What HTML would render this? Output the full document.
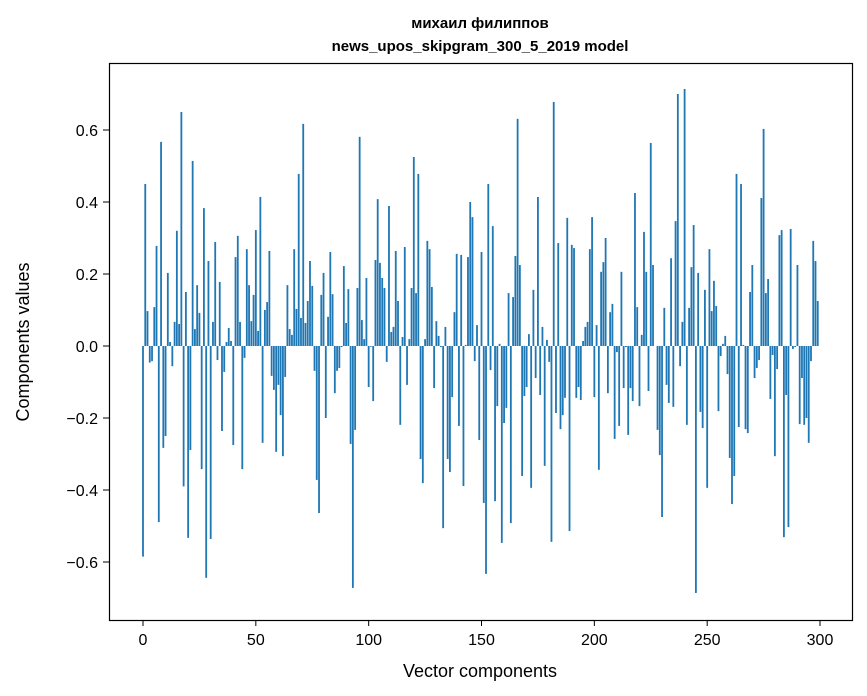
<!DOCTYPE html>
<html><head><meta charset="utf-8"><style>
html,body{margin:0;padding:0;background:#fff}
svg{display:block;font-family:"Liberation Sans","DejaVu Sans",sans-serif}
</style></head><body>
<svg id="chart" width="867" height="696">
<text x="480" y="28" text-anchor="middle" font-size="15" font-weight="bold">михаил филиппов</text>
<text x="480" y="51" text-anchor="middle" font-size="15" font-weight="bold">news_upos_skipgram_300_5_2019 model</text>
<g id="bars"></g>
<g id="xticks"></g>
<g id="yticks"></g>
<rect x="109.5" y="63.5" width="743" height="557" fill="none" stroke="#000" stroke-width="1.2"/>
<text x="480" y="677" text-anchor="middle" font-size="18">Vector components</text>
<text transform="translate(29,342) rotate(-90)" text-anchor="middle" font-size="18">Components values</text>
</svg>
<script>
const values = [
-0.585,0.45,0.097,-0.046,-0.042,0.108,0.278,-0.489,0.567,-0.283,
-0.25,0.203,0.011,-0.056,0.067,0.32,0.061,0.65,-0.39,0.15,
-0.533,-0.289,0.514,0.047,0.169,0.092,-0.342,0.383,-0.644,0.236,
-0.536,0.067,0.289,-0.039,0.178,-0.236,-0.072,0.011,0.05,0.014,
-0.275,0.247,0.306,0.067,-0.342,-0.033,0.269,0.169,0.069,0.142,
0.322,0.042,0.414,-0.269,0.1,0.122,0.264,-0.083,-0.122,-0.294,
-0.108,-0.192,-0.306,-0.086,0.169,0.047,0.031,0.269,0.103,0.478,
0.078,0.617,0.064,0.125,0.236,0.167,-0.069,-0.372,-0.464,0.142,
0.203,-0.2,0.081,0.261,0.144,-0.131,-0.069,-0.061,-0.003,0.222,
0.064,0.158,-0.272,-0.672,-0.233,0.161,0.581,0.072,0.019,0.189,
-0.114,-0.002,-0.153,0.239,0.408,0.231,0.189,0.161,-0.044,0.389,
0.039,0.053,0.264,0.125,-0.219,0.025,0.275,-0.108,0.019,0.161,
0.525,0.147,0.478,-0.314,-0.381,0.019,0.292,0.269,0.164,-0.117,
0.069,0.028,-0.003,-0.506,0.053,-0.314,-0.35,-0.142,0.094,0.256,
-0.222,0.253,-0.389,0.003,0.247,0.4,0.358,-0.042,0.058,-0.261,
0.261,-0.436,-0.633,0.45,-0.067,0.333,-0.431,-0.167,0.006,-0.547,
-0.214,-0.172,0.147,-0.492,0.136,0.25,0.631,0.225,-0.361,-0.139,
-0.114,0.033,-0.394,0.156,-0.089,0.414,-0.136,0.053,-0.333,0.017,
-0.044,-0.544,0.678,-0.186,0.286,-0.231,-0.192,-0.144,0.356,-0.514,
0.281,0.272,-0.144,-0.114,-0.15,0.014,0.053,0.067,0.269,0.358,
-0.142,0.058,-0.344,0.206,0.233,0.3,-0.131,0.094,0.117,-0.258,
-0.017,-0.222,0.206,-0.117,-0.003,-0.247,-0.117,-0.153,0.425,0.108,
-0.167,0.031,0.317,0.206,-0.125,0.564,0.225,0.0,-0.233,-0.303,
-0.475,0.106,-0.108,-0.158,0.244,-0.169,0.347,0.7,-0.056,0.067,
0.714,-0.219,0.106,0.219,0.336,-0.686,0.203,-0.183,-0.228,0.156,
-0.394,0.269,0.097,0.181,0.111,-0.181,-0.028,0.006,0.028,-0.078,
-0.311,-0.439,-0.361,0.478,-0.225,0.45,0.003,-0.231,-0.242,0.15,
0.225,-0.089,-0.061,-0.039,0.411,0.603,0.147,0.186,-0.147,-0.025,
-0.306,-0.064,0.308,0.322,-0.531,-0.136,-0.503,0.325,-0.008,-0.003,
0.225,-0.217,-0.089,-0.219,-0.2,-0.269,-0.042,0.292,0.236,0.125
];
const xTickValues = [0,50,100,150,200,250,300];
const xTickLabels = ["0","50","100","150","200","250","300"];
const yTickValues = [-0.6,-0.4,-0.2,0.0,0.2,0.4,0.6];
const yTickLabels = ["\u22120.6","\u22120.4","\u22120.2","0.0","0.2","0.4","0.6"];

const NS = "http://www.w3.org/2000/svg";
function xs(v){ return 143 + v * 2.2567; }
function ys(v){ return 346 - v * 360; }
const barsG = document.getElementById('bars');
values.forEach(function(v,i){
  const r = document.createElementNS(NS,'rect');
  const x0 = xs(i - 0.4), x1 = xs(i + 0.4);
  const y0 = Math.min(ys(v), ys(0)), y1 = Math.max(ys(v), ys(0));
  r.setAttribute('x', x0);
  r.setAttribute('y', y0);
  r.setAttribute('width', x1 - x0);
  r.setAttribute('height', Math.max(y1 - y0, 0));
  r.setAttribute('fill', '#1f77b4');
  
  
  barsG.appendChild(r);
});
const xg = document.getElementById('xticks');
xTickValues.forEach(function(v,i){
  const x = xs(v);
  const l = document.createElementNS(NS,'line');
  l.setAttribute('x1', x); l.setAttribute('x2', x);
  l.setAttribute('y1', 620); l.setAttribute('y2', 626);
  l.setAttribute('stroke', '#000');
  
  
  xg.appendChild(l);
  const t = document.createElementNS(NS,'text');
  t.setAttribute('x', x); t.setAttribute('y', 645);
  t.setAttribute('text-anchor', 'middle');
  t.setAttribute('font-size', '16');
  t.textContent = xTickLabels[i];
  
  
  xg.appendChild(t);
});
const yg = document.getElementById('yticks');
yTickValues.forEach(function(v,i){
  const y = ys(v);
  const l = document.createElementNS(NS,'line');
  l.setAttribute('x1', 103); l.setAttribute('x2', 109);
  l.setAttribute('y1', y); l.setAttribute('y2', y);
  l.setAttribute('stroke', '#000');
  
  
  yg.appendChild(l);
  const t = document.createElementNS(NS,'text');
  t.setAttribute('x', 98); t.setAttribute('y', y + 6);
  t.setAttribute('text-anchor', 'end');
  t.setAttribute('font-size', '16');
  t.textContent = yTickLabels[i];
  
  
  yg.appendChild(t);
});
</script>
</body></html>
